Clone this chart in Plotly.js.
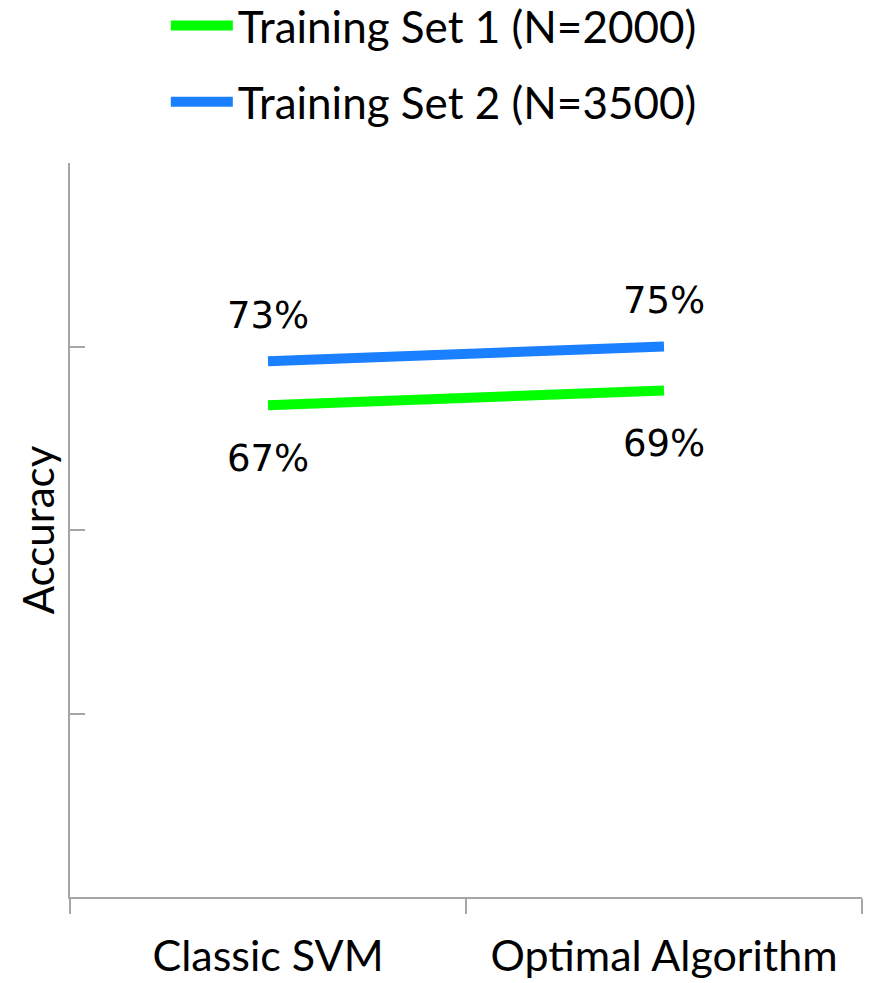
<!DOCTYPE html>
<html>
<head>
<meta charset="utf-8">
<script src="https://cdn.plot.ly/plotly-3.0.1.min.js"></script>
<style>
  html, body { margin: 0; padding: 0; background: #ffffff; }
  #chart { width: 870px; height: 983px; }
</style>
</head>
<body>
<div id="chart"></div>
<script>
// Accuracy of two training sets across two methods
const methods = ["Classic SVM", "Optimal Algorithm"];
const set1Name = "Training Set 1 (N=2000)";
const set2Name = "Training Set 2 (N=3500)";
const set1Acc = [67, 69];
const set2Acc = [73, 75];

const green = "#00ff00";
const blue = "#1a80ff";
const axisGray = "#a6a6a6";

const traces = [
  {
    x: methods, y: set1Acc, name: set1Name, type: "scatter", mode: "lines",
    line: { color: green, width: 10 }, legendgroup: "g1"
  },
  {
    x: methods, y: set2Acc, name: set2Name, type: "scatter", mode: "lines",
    line: { color: blue, width: 10 }, legendgroup: "g2"
  }
];

// Percent labels: set 2 above its line, set 1 below
const labelFont = { family: "DejaVu Sans", size: 37, color: "#000000" };
const annotations = [];
methods.forEach((m, i) => {
  annotations.push({
    x: m, y: set2Acc[i], xref: "x", yref: "y", text: set2Acc[i] + "%",
    showarrow: false, yshift: 46, font: labelFont
  });
  annotations.push({
    x: m, y: set1Acc[i], xref: "x", yref: "y", text: set1Acc[i] + "%",
    showarrow: false, yshift: -53, font: labelFont
  });
});

const layout = {
  width: 870, height: 983,
  margin: { l: 70, r: 8, t: 163, b: 86, autoexpand: false },
  paper_bgcolor: "#ffffff", plot_bgcolor: "#ffffff",
  showlegend: true,
  legend: {
    orientation: "v", x: 0.121, xanchor: "left", xref: "paper",
    y: 1.235, yanchor: "top", yref: "paper",
    font: { family: "Lato", size: 44, color: "#000000" },
    traceorder: "grouped", tracegroupgap: 16, itemwidth: 62,
    bgcolor: "rgba(0,0,0,0)"
  },
  xaxis: {
    type: "category", range: [-0.5, 1.5], tickson: "boundaries",
    showline: true, linecolor: axisGray, linewidth: 2,
    ticks: "outside", ticklen: 15, tickwidth: 2, tickcolor: axisGray,
    showgrid: false, zeroline: false,
    tickfont: { family: "Lato", size: 43, color: "#000000" },
    ticklabelstandoff: 20, fixedrange: true
  },
  yaxis: {
    range: [0, 100], dtick: 25, showticklabels: false,
    showline: true, linecolor: axisGray, linewidth: 2,
    ticks: "inside", ticklen: 15, tickwidth: 2, tickcolor: axisGray,
    showgrid: false, zeroline: false,
    title: { text: "Accuracy", font: { family: "Lato", size: 42, color: "#000000" }, standoff: 0 },
    automargin: false, fixedrange: true
  },
  annotations: annotations
};

Plotly.newPlot("chart", traces, layout, { displayModeBar: false, staticPlot: true });
</script>
</body>
</html>
